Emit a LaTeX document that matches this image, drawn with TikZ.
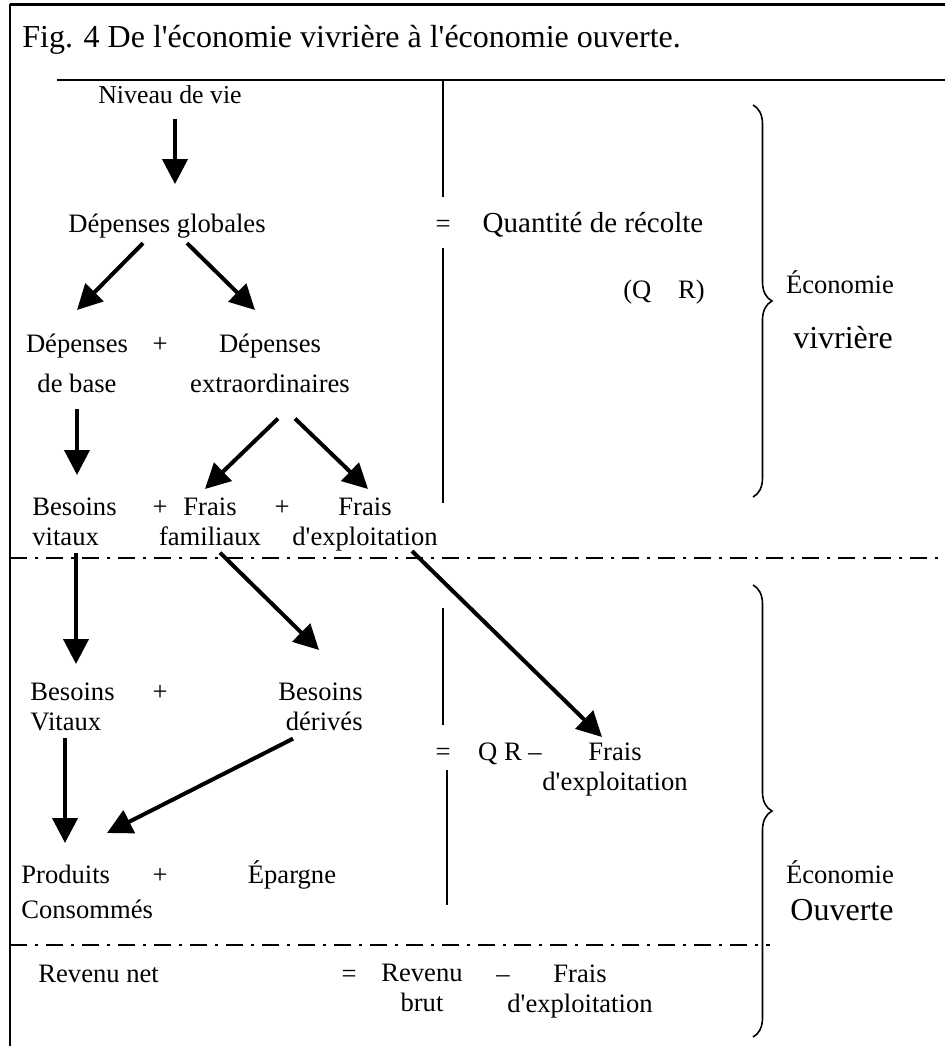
\documentclass[tikz,border=0pt]{standalone}
\usepackage{fontspec}
\setmainfont{Liberation Serif}[Ligatures=TeXOff]
\usetikzlibrary{arrows.meta,calc,decorations.pathreplacing}

\tikzset{
  lbl/.style={inner sep=0pt, font=\fontsize{13.3}{15}\selectfont},
  big/.style={inner sep=0pt, font=\fontsize{16}{19}\selectfont},
  arr/.style={line width=2pt, -{Triangle[length=12.5pt,width=12.5pt]}},
  sep/.style={line width=1.2pt, dash pattern=on 8.5pt off 4pt on 1.5pt off 4pt},
  rule/.style={line width=0.7pt},
  brc/.style={line width=0.8pt, decorate, decoration={brace, amplitude=9.5pt}},
}

\begin{document}
\begin{tikzpicture}[x=0.5pt, y=-0.5pt]
  \useasboundingbox (0,0) rectangle (945,1046);

  % frame and rules
  \draw[line width=1.5pt] (10,4) -- (945,4);
  \draw[line width=1pt] (10,4) -- (10,1046);
  \draw[rule] (57,80) -- (945,80);
  \draw[sep] (10,558) -- (945,558);
  \draw[sep] (10,945) -- (770,945);

  \node[big, anchor=base west] (title) at (22,47)
    {Fig. 4 De l'économie vivrière à l'économie ouverte.};

  % economie vivriere
  \node[lbl, anchor=base, font=\fontsize{12.9}{14}\selectfont] (niveau) at (170,103) {Niveau de vie};
  \node[lbl, anchor=base] (glob) at (167,232) {Dépenses globales};
  \node[lbl, anchor=base] (eqa) at (443,232) {=};
  \node[lbl, anchor=base, font=\fontsize{14.5}{16}\selectfont] (qrec) at (593,232) {Quantité de récolte};
  \node[lbl, anchor=base] (qr) at (664,298) {(Q\quad R)};
  \node[lbl, anchor=north, align=center] (dbase) at (77,334) {Dépenses\\[5pt]de base};
  \node[lbl, anchor=base] (plusa) at (160,352) {+};
  \node[lbl, anchor=north, align=center] (dextra) at (270,334) {Dépenses\\[5pt]extraordinaires};
  \node[lbl, anchor=north west, align=left] (bvit) at (32,497) {Besoins\\vitaux};
  \node[lbl, anchor=base] (plusb) at (160,515) {+};
  \node[lbl, anchor=north, align=center] (ffam) at (210,497) {Frais\\familiaux};
  \node[lbl, anchor=base] (plusc) at (282,515) {+};
  \node[lbl, anchor=north, align=center] (fexp) at (365,497) {Frais\\d'exploitation};

  \draw[rule] (eqa.north |- 0,80) -- ([yshift=11pt]eqa.north);
  \draw[rule] ([yshift=-8pt]eqa.south) -- (eqa.south |- 0,503);

  % economie ouverte
  \node[lbl, anchor=north west, align=left] (bvitb) at (30,682) {Besoins\\Vitaux};
  \node[lbl, anchor=base] (plusd) at (160,700) {+};
  \node[lbl, anchor=north east, align=right] (bder) at (363,682) {Besoins\\dérivés};
  \node[lbl, anchor=base] (eqb) at (443,760) {=};
  \node[lbl, anchor=base] (qrm) at (510,760) {Q R –};
  \node[lbl, anchor=north, align=center] (fexpb) at (615,742) {Frais\\d'exploitation};
  \node[lbl, anchor=north west, align=left] (prod) at (21,865) {Produits\\[2.5pt]Consommés};
  \node[lbl, anchor=base] (pluse) at (160,883) {+};
  \node[lbl, anchor=base] (epar) at (292,883) {Épargne};

  \draw[rule] (eqb.north |- 0,608) -- ([yshift=11pt]eqb.north);
  \draw[rule] ([xshift=2pt,yshift=-5pt]eqb.south) -- ([xshift=2pt]eqb.south |- 0,905);

  % revenu net
  \node[lbl, anchor=base west] (revnet) at (38,982) {Revenu net};
  \node[lbl, anchor=base] (eqc) at (349,982) {=};
  \node[lbl, anchor=north, align=center] (revb) at (422,964) {Revenu\\brut};
  \node[lbl, anchor=base] (minus) at (503,982) {–};
  \node[lbl, anchor=north, align=center] (fexpc) at (580,964) {Frais\\d'exploitation};

  % braces
  \draw[brc] (753,105) -- (753,497);
  \draw[brc] (753,585) -- (753,1037);
  \node[lbl, anchor=base] (econa) at (840,293) {Économie};
  \node[big, anchor=base] (viv) at (843,348) {vivrière};
  \node[lbl, anchor=base] (econb) at (840,883) {Économie};
  \node[big, anchor=base] (ouv) at (842,920) {Ouverte};

  % arrows
  \draw[arr] ($(niveau.south)+(5,15)$) -- ($(glob.north)+(8,-29)$);
  \draw[arr] ($(glob.south)+(-24,5)$) -- ($(dbase.north)+(0,-24)$);
  \draw[arr] ($(glob.south)+(20,5)$) -- ($(dextra.north)+(-15,-24)$);
  \draw[arr] ($(dbase.south)+(0,15)$) -- ($(bvit.north west)+(45,-22)$);
  \draw[arr] ($(dextra.south)+(8,25)$) -- ($(ffam.north)+(-5,-8)$);
  \draw[arr] ($(dextra.south)+(25,25)$) -- ($(fexp.north)+(3,-8)$);
  \draw[arr] ($(bvit.south west)+(44,7)$) -- ($(bvitb.north west)+(46,-18)$);
  \draw[arr] ($(ffam.south)+(10,7)$) -- ($(bder.north east)+(-44,-32)$);
  \draw[arr] ($(fexp.south)+(47,0)$) -- ($(fexpb.north)+(-13,-5)$);
  \draw[arr] ($(bvitb.south west)+(35,7)$) -- ($(prod.north west)+(44,-22)$);
  \draw[arr] ($(bder.south east)+(-70,8)$) -- ($(prod.north west)+(86,-32)$);
\end{tikzpicture}
\end{document}
